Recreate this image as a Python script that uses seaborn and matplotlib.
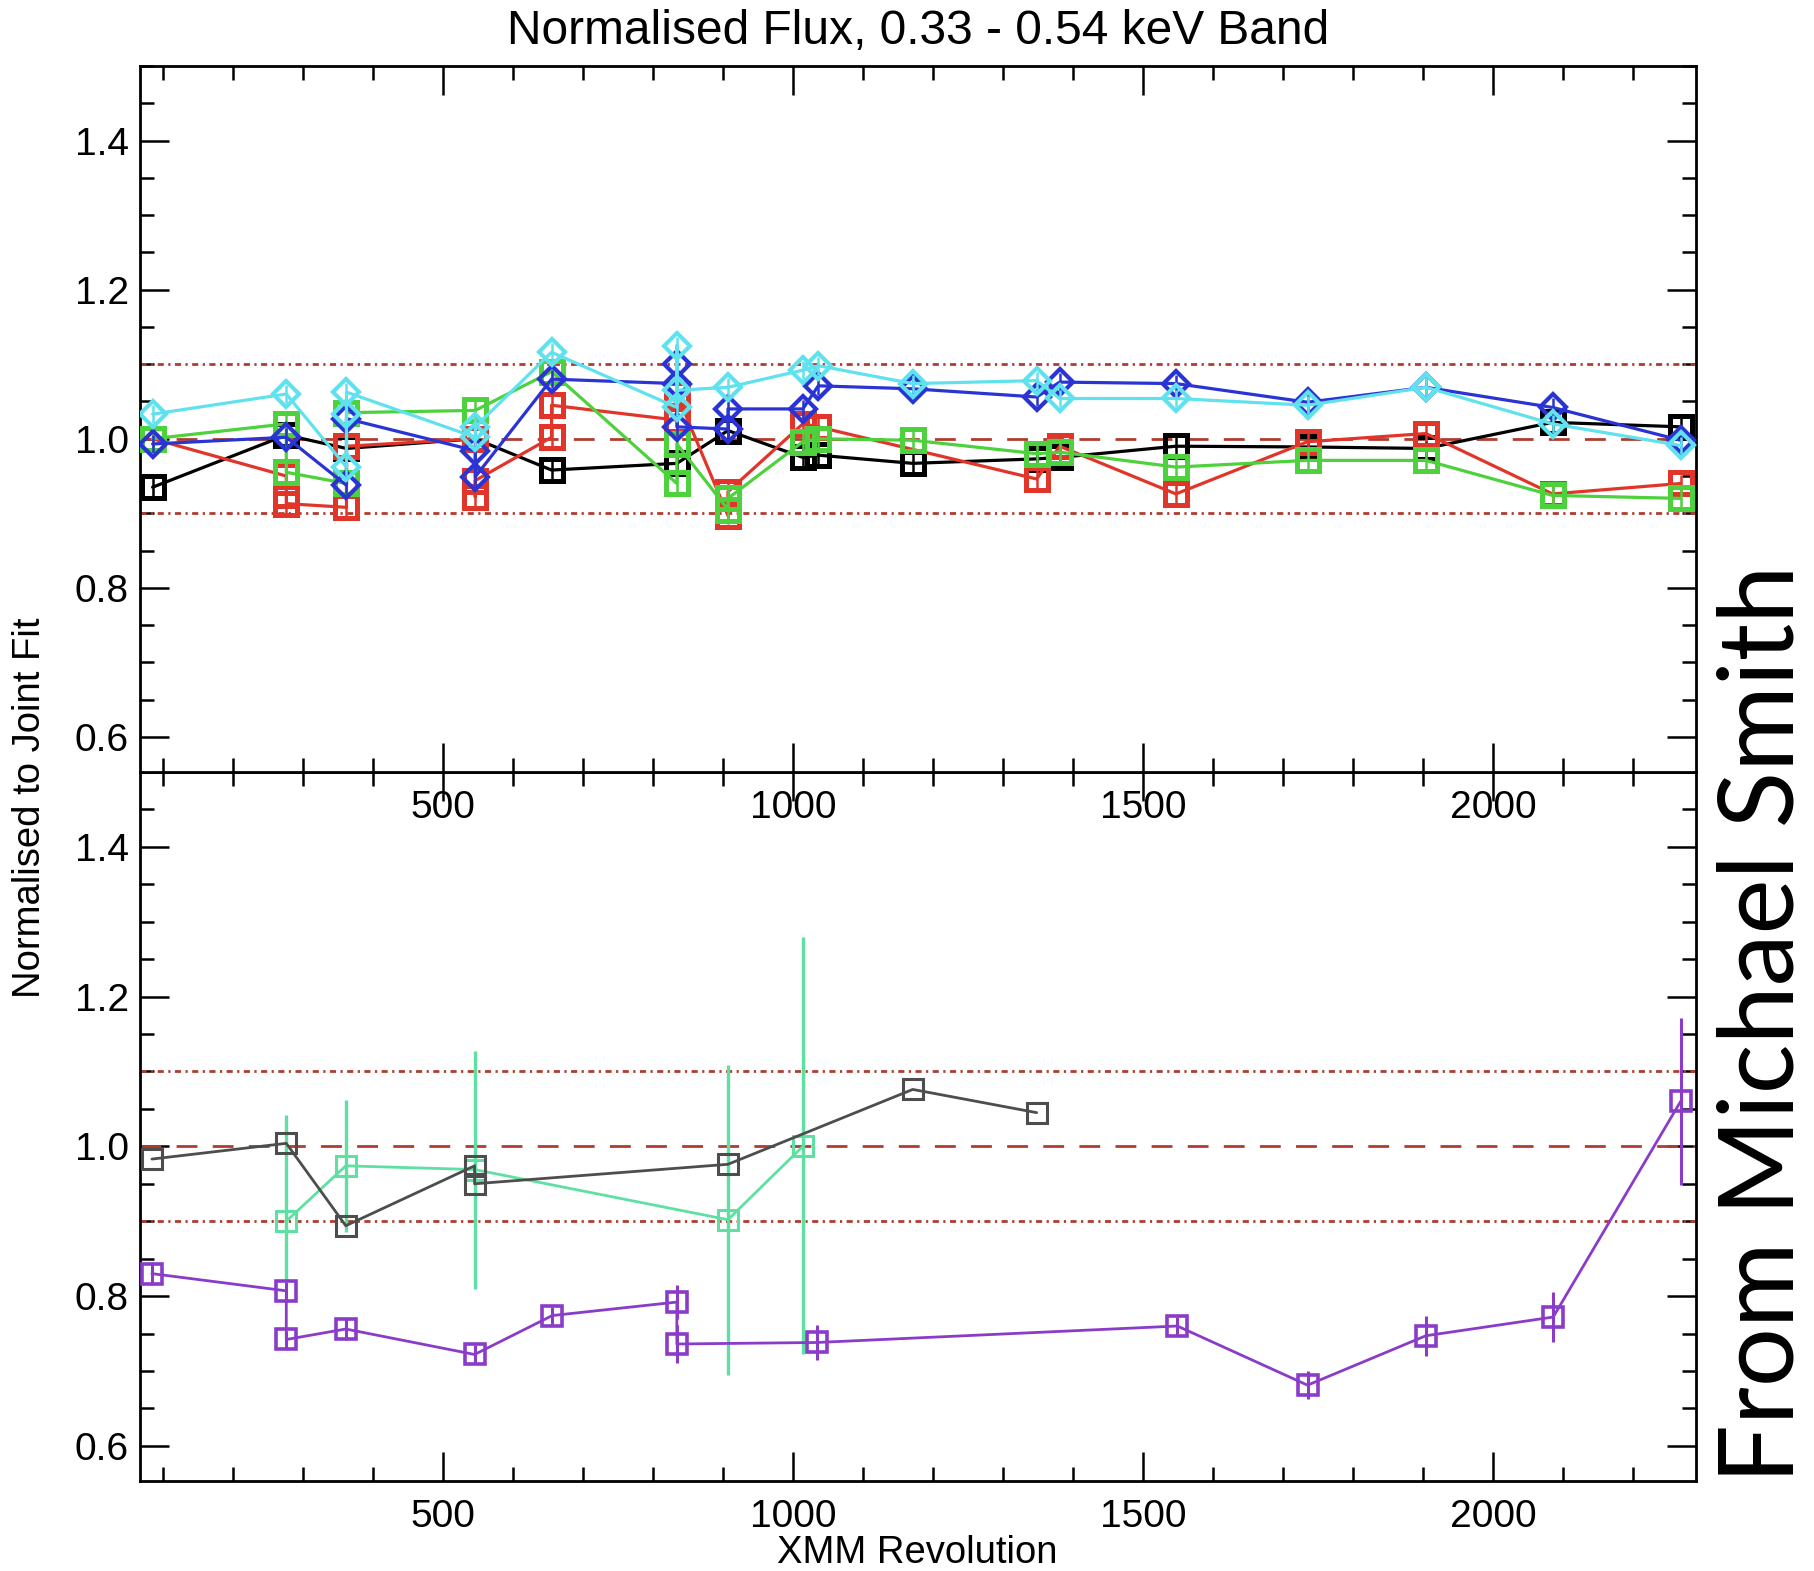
import numpy as np
import pandas as pd
import matplotlib
matplotlib.use("Agg")
import matplotlib.pyplot as plt
from matplotlib.ticker import MultipleLocator, FormatStrFormatter
import seaborn as sns

# ---------------- data ----------------
# top panel (Normalised flux per instrument)
black_x = [85, 276, 362, 546, 655, 834, 907, 1014, 1036, 1171, 1348, 1381, 1547, 1735, 1904, 2085, 2268]
black_y = [0.935, 1.005, 0.987, 1.000, 0.958, 0.967, 1.011, 0.975, 0.978, 0.967, 0.973, 0.975, 0.990, 0.989, 0.987, 1.022, 1.016]

red_x = [85, 276, 276, 276, 362, 362, 546, 546, 546, 655, 655, 834, 834, 907, 907, 1014, 1036, 1348, 1381, 1547, 1735, 1904, 2085, 2268]
red_y = [1.000, 0.950, 0.924, 0.913, 0.908, 0.990, 1.000, 0.922, 0.944, 1.002, 1.045, 1.025, 1.060, 0.897, 0.929, 1.020, 1.016, 0.946, 0.990, 0.926, 0.996, 1.007, 0.926, 0.940]

green_x = [85, 276, 276, 362, 362, 546, 655, 834, 834, 907, 907, 1014, 1036, 1171, 1348, 1381, 1547, 1735, 1904, 2085, 2268]
green_y = [1.000, 1.020, 0.955, 0.940, 1.035, 1.038, 1.090, 0.940, 0.993, 0.905, 0.920, 0.996, 1.000, 0.998, 0.980, 0.982, 0.962, 0.971, 0.971, 0.924, 0.920]

blue_x = [85, 276, 362, 362, 546, 546, 655, 834, 834, 834, 907, 907, 1014, 1036, 1171, 1348, 1381, 1547, 1735, 1904, 2085, 2268]
blue_y = [0.993, 1.002, 0.9375, 1.027, 0.984, 0.949, 1.080, 1.074, 1.100, 1.016, 1.013, 1.040, 1.040, 1.071, 1.067, 1.056, 1.076, 1.074, 1.049, 1.069, 1.042, 0.998]

cyan_x = [85, 276, 362, 362, 362, 546, 546, 655, 834, 834, 834, 907, 1014, 1036, 1171, 1348, 1381, 1547, 1735, 1904, 2085, 2268]
cyan_y = [1.033, 1.060, 0.962, 1.033, 1.0625, 1.002, 1.016, 1.116, 1.042, 1.125, 1.065, 1.069, 1.092, 1.098, 1.074, 1.078, 1.054, 1.054, 1.045, 1.069, 1.020, 0.991]

# bottom panel
gray_x = [84, 276, 361, 545, 545, 907, 1171, 1348]
gray_y = [0.983, 1.004, 0.894, 0.974, 0.950, 0.976, 1.076, 1.045]

seafoam_x = [276, 361, 545, 907, 1014]
seafoam_y = [0.900, 0.974, 0.969, 0.902, 1.000]
seafoam_lo = [0.820, 0.885, 0.810, 0.695, 0.722]
seafoam_hi = [1.042, 1.062, 1.128, 1.109, 1.280]

purple_x = [84, 276, 276, 361, 545, 656, 834, 834, 1034, 1549, 1735, 1904, 2086, 2268]
purple_y = [0.830, 0.807, 0.742, 0.756, 0.722, 0.774, 0.792, 0.736, 0.738, 0.760, 0.681, 0.747, 0.772, 1.060]
purple_err = [0.015, 0.012, 0.012, 0.015, 0.012, 0.012, 0.023, 0.026, 0.023, 0.012, 0.019, 0.027, 0.034, 0.111]

ref_levels = [0.9, 1.0, 1.1]
xticks_major = [500, 1000, 1500, 2000]

# ---------------- style ----------------
sns.set_theme(style="ticks")
plt.rcParams["font.family"] = ["Liberation Sans", "DejaVu Sans"]
plt.rcParams["axes.linewidth"] = 2.0
for k in ("text.color", "axes.labelcolor", "xtick.color", "ytick.color", "axes.edgecolor"):
    plt.rcParams[k] = "black"

W, H = 1814, 1571
fig = plt.figure(figsize=(W / 100, H / 100), dpi=100)
L, R = 140 / W, 1696 / W
top, mid, bot = 1 - 66 / H, 1 - 772 / H, 1 - 1481 / H
ax1 = fig.add_axes([L, mid, R - L, top - mid])
ax2 = fig.add_axes([L, bot, R - L, mid - bot])
ax1.set_zorder(3)

refc = "#b03c30"


def ref_lines(ax):
    for lv in ref_levels:
        if lv == 1.0:
            ax.axhline(lv, color=refc, lw=2.0, ls=(0, (7.5, 5.5)), zorder=1)
        else:
            ax.axhline(lv, color=refc, lw=2.0, ls=(0, (2.2, 1.6, 0.8, 1.6)), zorder=1)


def series(ax, x, y, color, marker, ms, mew, lw, z):
    df = pd.DataFrame({"x": x, "y": y})
    sns.lineplot(data=df, x="x", y="y", ax=ax, sort=False, estimator=None,
                 color=color, lw=lw, marker=marker, markersize=ms,
                 markerfacecolor="none", markeredgecolor=color,
                 markeredgewidth=mew, legend=False, zorder=z)


ref_lines(ax1)
ref_lines(ax2)

# top panel
top_series = [
    (black_x, black_y, "#000000", "s", 16, 3.6),
    (red_x, red_y, "#e2352a", "s", 16, 3.6),
    (green_x, green_y, "#4dd13c", "s", 16, 3.6),
    (blue_x, blue_y, "#2a33d4", "D", 13, 3.0),
    (cyan_x, cyan_y, "#5fe2ee", "D", 13, 3.0),
]
for i, (x, y, c, m, ms, mew) in enumerate(top_series):
    ax1.errorbar(x, y, yerr=0.012, fmt="none", ecolor=c, elinewidth=1.8, capsize=0, zorder=4 + i)
    series(ax1, x, y, c, m, ms, mew, 2.3, 4 + i)

# bottom panel
sf_c = "#5ee0a2"
lo = np.array(seafoam_y) - np.array(seafoam_lo)
hi = np.array(seafoam_hi) - np.array(seafoam_y)
ax2.errorbar(seafoam_x, seafoam_y, yerr=[lo, hi], fmt="none", ecolor=sf_c, elinewidth=2.4, capsize=0, zorder=4)
series(ax2, seafoam_x, seafoam_y, sf_c, "s", 14, 2.2, 2.0, 4)
series(ax2, gray_x, gray_y, "#4d4d4d", "s", 14, 2.2, 2.0, 5)
pc = "#8a3cc9"
ax2.errorbar(purple_x, purple_y, yerr=purple_err, fmt="none", ecolor=pc, elinewidth=2.2, capsize=0, zorder=6)
series(ax2, purple_x, purple_y, pc, "s", 14, 2.6, 2.0, 6)

for ax in (ax1, ax2):
    ax.set_xlim(67, 2290)
    ax.set_ylim(0.553, 1.5)
    ax.set_xticks(xticks_major)
    ax.xaxis.set_minor_locator(MultipleLocator(100))
    ax.yaxis.set_major_locator(MultipleLocator(0.2))
    ax.yaxis.set_minor_locator(MultipleLocator(0.05))
    ax.yaxis.set_major_formatter(FormatStrFormatter("%.1f"))
    ax.tick_params(which="both", direction="in", top=True, right=True,
                   width=1.8, colors="black", labelsize=28)
    ax.tick_params(which="major", length=21)
    ax.tick_params(which="minor", length=10)
    ax.tick_params(axis="x", pad=13)
    ax.tick_params(axis="y", pad=8)
    ax.set_xlabel("")
    ax.set_ylabel("")
    for s in ax.spines.values():
        s.set_linewidth(2.0)
        s.set_color("black")
    ax.grid(False)

fig.text(918 / W, 1 - 31 / H, "Normalised Flux, 0.33 - 0.54 keV Band",
         ha="center", va="center", fontsize=34.5)
fig.text(917 / W, 1 - 1553 / H, "XMM Revolution", ha="center", va="center", fontsize=27.5)
fig.text(30 / W, 1 - 808 / H, "Normalised to Joint Fit", rotation=90,
         ha="center", va="center", fontsize=27.5)
fig.text(1764 / W, 1 - 1024 / H, "From Michael Smith", rotation=90,
         ha="center", va="center", fontsize=75, family=["Lato", "DejaVu Sans"])

fig.savefig("out.png", dpi=100)
